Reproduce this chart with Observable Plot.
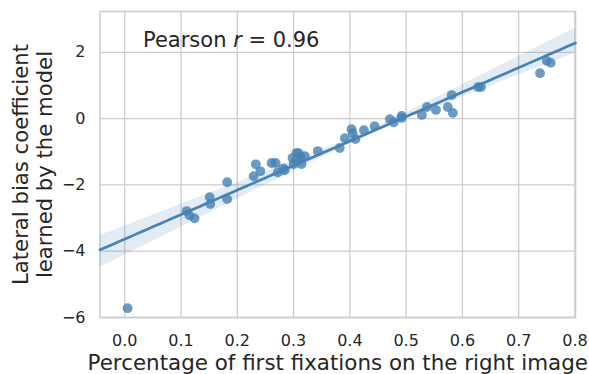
<!DOCTYPE html>
<html><head><meta charset="utf-8">
<script src="https://cdn.jsdelivr.net/npm/d3@7"></script>
<script src="https://cdn.jsdelivr.net/npm/@observablehq/plot@0.6"></script>
<style>body{margin:0;background:#fff;} svg{display:block;}</style>
</head><body><div id="chart"></div>
<script>
// Percentage of first fixations on the right image (x)
const fixRight = [0.005, 0.110, 0.115, 0.124, 0.151, 0.152, 0.182, 0.182, 0.229, 0.233,
  0.241, 0.261, 0.268, 0.272, 0.282, 0.284, 0.298, 0.300, 0.305, 0.309,
  0.313, 0.314, 0.320, 0.305, 0.343, 0.382, 0.391, 0.403, 0.405, 0.410,
  0.425, 0.444, 0.471, 0.478, 0.492, 0.492, 0.528, 0.537, 0.553, 0.574,
  0.583, 0.581, 0.628, 0.633, 0.738, 0.750, 0.757];
// Lateral bias coefficient learned by the model (y)
const lateralBias = [-5.72, -2.79, -2.92, -3.01, -2.37, -2.58, -1.92, -2.43, -1.74, -1.38,
  -1.59, -1.34, -1.34, -1.62, -1.50, -1.56, -1.19, -1.37, -1.04, -1.04,
  -1.16, -1.37, -1.13, -1.25, -0.98, -0.89, -0.59, -0.32, -0.44, -0.62,
  -0.35, -0.23, -0.02, -0.11, 0.08, 0.02, 0.11, 0.35, 0.26, 0.35,
  0.17, 0.71, 0.95, 0.95, 1.37, 1.74, 1.68];
const xTicks = [0, 0.1, 0.2, 0.3, 0.4, 0.5, 0.6, 0.7, 0.8];
const yTicks = [-6, -4, -2, 0, 2];
const pearsonLabel = "Pearson r = 0.96";
const xLabel = "Percentage of first fixations on the right image";
const yLabel = "Lateral bias coefficient\nlearned by the model";

const data = fixRight.map((x, i) => ({x, y: lateralBias[i]}));
const xDomain = [-0.044, 0.801];
const yDomain = [-6, 3.23];

function fit(pts) {
  const mx = d3.mean(pts, d => d.x), my = d3.mean(pts, d => d.y);
  let sxy = 0, sxx = 0;
  for (const d of pts) { sxy += (d.x - mx) * (d.y - my); sxx += (d.x - mx) ** 2; }
  const b = sxx ? sxy / sxx : 0;
  return [my - b * mx, b];
}
const [a0, b0] = fit(data);
// seaborn-style bootstrap confidence band (seeded, deterministic)
const rng = d3.randomLcg(0.1234);
const boots = [];
for (let k = 0; k < 1000; k++) {
  const s = data.map(() => data[Math.floor(rng() * data.length)]);
  boots.push(fit(s));
}
const band = d3.range(0, 101).map(i => {
  const x = xDomain[0] + (xDomain[1] - xDomain[0]) * i / 100;
  const ys = boots.map(([a, b]) => a + b * x);
  return {x, y: a0 + b0 * x, lo: d3.quantile(ys, 0.025), hi: d3.quantile(ys, 0.975)};
});

const gridColor = "#cccccc";
const blue = "#4682b4";
const ink = "#262626";
const fmtX = d3.format(".1f");
const fmtY = d => d < 0 ? "\u2212" + Math.abs(d) : String(d);
const plot = Plot.plot({
  width: 589, height: 374,
  marginLeft: 99.5, marginRight: 14, marginTop: 11, marginBottom: 57,
  style: {fontFamily: "DejaVu Sans", fontSize: "16px", color: ink, background: "#fff"},
  x: {domain: xDomain, axis: null},
  y: {domain: yDomain, axis: null},
  marks: [
    Plot.ruleX(xTicks, {stroke: gridColor, strokeWidth: 1.3}),
    Plot.ruleY(yTicks, {stroke: gridColor, strokeWidth: 1.3}),
    Plot.frame({stroke: gridColor, strokeWidth: 1.5}),
    Plot.text(xTicks, {x: d => d, text: fmtX, frameAnchor: "bottom", dy: 23, textAnchor: "middle", lineAnchor: "middle", fontSize: 16, fill: ink}),
    Plot.text(yTicks, {y: d => d, text: fmtY, frameAnchor: "left", dx: -14.5, textAnchor: "end", lineAnchor: "middle", fontSize: 16, fill: ink}),
    Plot.dot(data, {x: "x", y: "y", r: 4.9, fill: blue, fillOpacity: 0.8, stroke: "none"}),
    Plot.areaY(band, {x: "x", y1: "lo", y2: "hi", fill: blue, fillOpacity: 0.15}),
    Plot.line(band, {x: "x", y: "y", stroke: blue, strokeWidth: 2.7}),
    Plot.text([pearsonLabel], {frameAnchor: "top-left", dx: 43, dy: 28.5, textAnchor: "start", lineAnchor: "middle", fontSize: 21, fill: ink}),
    Plot.text([xLabel], {frameAnchor: "bottom", dy: 46, textAnchor: "middle", lineAnchor: "middle", fontSize: 21.4, fill: ink}),
    Plot.text([yLabel], {frameAnchor: "left", dx: -68, rotate: -90, textAnchor: "middle", lineAnchor: "middle", fontSize: 21.2, lineHeight: 24 / 21, fill: ink})
  ]
});
d3.select(plot).selectAll("text").filter(function () { return this.textContent === pearsonLabel; })
  .each(function () {
    const t = d3.select(this);
    t.text(null);
    t.append("tspan").text("Pearson ");
    t.append("tspan").attr("font-style", "italic").text("r");
    t.append("tspan").text(" = 0.96");
  });
document.getElementById("chart").appendChild(plot);
</script>
</body></html>
